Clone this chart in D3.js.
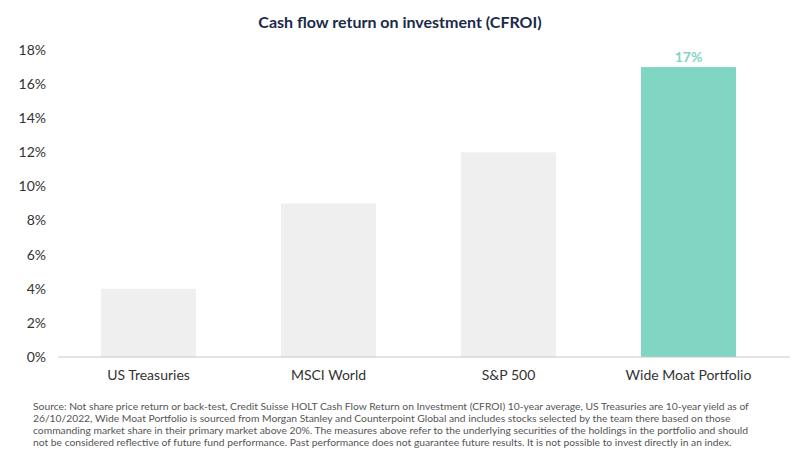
<!DOCTYPE html>
<html>
<head>
<meta charset="utf-8">
<script src="https://cdn.jsdelivr.net/npm/d3@7"></script>
<style>
  body { margin: 0; background: #fff; font-family: Lato, "Open Sans", sans-serif; }
</style>
</head>
<body>
<div id="chart"></div>
<script>
// Chart data
const categories = ["US Treasuries", "MSCI World", "S&P 500", "Wide Moat Portfolio"];
const values = [4, 9, 12, 17];
const yTicks = [0, 2, 4, 6, 8, 10, 12, 14, 16, 18];
const highlight = "Wide Moat Portfolio";

const W = 801, H = 450;
const svg = d3.select("#chart").append("svg").attr("width", W).attr("height", H);

// Scales
const x = d3.scaleBand().domain(categories).range([58.5, 778.5]).paddingInner(0.472).paddingOuter(0.236);
const y = d3.scaleLinear().domain([0, 18]).range([357, 50]);

// Title
svg.append("text")
  .attr("x", 400).attr("y", 28)
  .attr("text-anchor", "middle")
  .style("font-size", "16px").style("font-weight", "bold").style("fill", "#1b2a4a")
  .text("Cash flow return on investment (CFROI)");

// Y axis labels
svg.append("g")
  .selectAll("text")
  .data(yTicks)
  .enter()
  .append("text")
  .attr("x", 46)
  .attr("y", (d) => y(d))
  .attr("dy", "0.35em")
  .attr("text-anchor", "end")
  .style("font-size", "14px").style("fill", "#333")
  .text((d) => d + "%");

// Bars
svg.selectAll(".bar")
  .data(values)
  .enter()
  .append("rect")
  .attr("x", (d, i) => x(categories[i]))
  .attr("width", x.bandwidth())
  .attr("y", (d) => y(d))
  .attr("height", (d) => y(0) - y(d))
  .style("fill", (d, i) => categories[i] === highlight ? "#80d6c3" : "#efeff0");

// Baseline
svg.append("line")
  .attr("x1", 58).attr("x2", 790)
  .attr("y1", y(0)).attr("y2", y(0))
  .style("stroke", "#c8c8c8").style("stroke-width", 1);

// Highlight value label
const hi = categories.indexOf(highlight);
svg.append("text")
  .attr("x", x(highlight) + x.bandwidth() / 2)
  .attr("y", y(values[hi]) - 5)
  .attr("text-anchor", "middle")
  .style("font-size", "14px").style("font-weight", "bold").style("fill", "#80d6c3")
  .text(values[hi] + "%");

// X labels
svg.append("g")
  .selectAll("text")
  .data(categories)
  .enter()
  .append("text")
  .attr("x", (d) => x(d) + x.bandwidth() / 2)
  .attr("y", 380)
  .attr("text-anchor", "middle")
  .style("font-size", "14px").style("fill", "#333")
  .text((d) => d);

// Source note
const note = [
  "Source:  Not share price return or back-test, Credit Suisse HOLT Cash Flow Return on Investment (CFROI) 10-year average, US Treasuries are 10-year yield as of",
  "26/10/2022, Wide Moat Portfolio is sourced from Morgan Stanley and Counterpoint Global and includes stocks selected by the team there based on those",
  "commanding market share in their primary market above 20%. The measures above refer to the underlying securities of the holdings in the portfolio and should",
  "not be considered reflective of future fund performance. Past performance does not guarantee future results. It is not possible to invest directly in an index."
];
svg.append("g")
  .selectAll("text")
  .data(note)
  .enter()
  .append("text")
  .attr("x", 33)
  .attr("y", (d, i) => 410 + i * 12)
  .style("font-size", "10.3px").style("fill", "#555")
  .text((d) => d);
</script>
</body>
</html>
